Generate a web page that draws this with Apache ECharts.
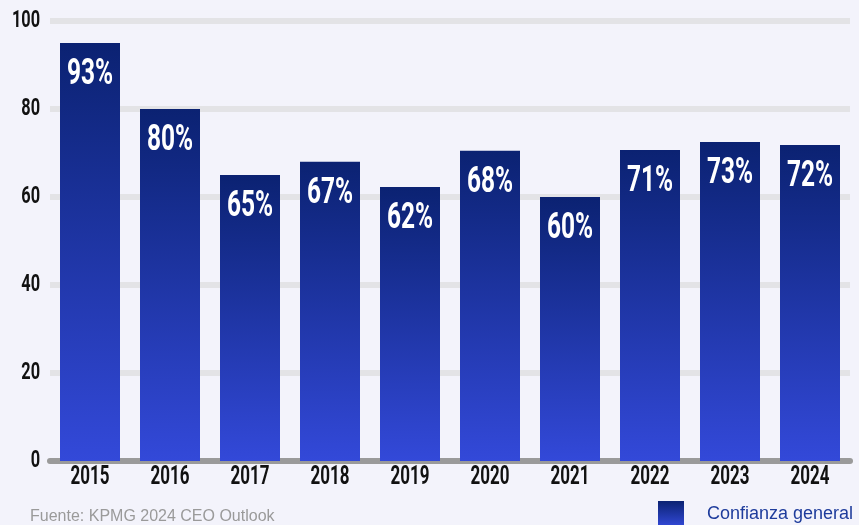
<!DOCTYPE html>
<html><head><meta charset="utf-8">
<script src="https://cdn.jsdelivr.net/npm/echarts@6/dist/echarts.min.js"></script>
<style>html,body{margin:0;padding:0;background:#f3f3fb}#c{width:859px;height:525px}</style>
</head><body><div id="c"></div>
<script>
const years = ['2015','2016','2017','2018','2019','2020','2021','2022','2023','2024'];
const barValues = [95, 80, 65, 68, 62.3, 70.5, 60, 70.7, 72.5, 71.8];
const barLabels = ['93%','80%','65%','67%','62%','68%','60%','71%','73%','72%'];
const seriesName = 'Confianza general';
const sourceText = 'Fuente: KPMG 2024 CEO Outlook';

// condensed look: horizontally squeeze text drawn in the "Roboto" face
(function(){
  const P = CanvasRenderingContext2D.prototype;
  const orig = P.fillText;
  P.fillText = function(t, x, y, w){
    if (this.font && this.font.indexOf('Roboto') >= 0) {
      this.save(); this.translate(x, y); this.scale(0.68, 1);
      orig.call(this, t, 0, 0); this.restore();
    } else { orig.call(this, t, x, y, w); }
  };
})();

const condensed = 'Roboto';
const grad = new echarts.graphic.LinearGradient(0,0,0,1,[
  {offset:0,color:'#0b2272'},{offset:1,color:'#3349d9'}]);
const chart = echarts.init(document.getElementById('c'), null, {renderer:'canvas'});
chart.setOption({
  backgroundColor:'#f3f3fb',
  animation:false,
  grid:{left:50,right:9,top:21,bottom:64,containLabel:false,outerBoundsMode:'none'},
  legend:{show:true,left:658,top:501,padding:0,itemWidth:26,itemHeight:26,itemGap:10,
    textStyle:{color:'#1e3c9c',fontSize:18,fontFamily:'"Liberation Sans", Arial, sans-serif',padding:[2,0,0,18]},
    data:[{name:seriesName,icon:'rect'}]},
  graphic:[{type:'text',left:30,top:509,style:{text:sourceText,fill:'#9a9a9a',fontSize:16,fontFamily:'"Liberation Sans", Arial, sans-serif'}}],
  xAxis:{type:'category',data:years,
    axisLine:{lineStyle:{color:'#9a9a9a',width:6}},
    axisTick:{show:false},
    axisLabel:{color:'#111',fontSize:25,fontWeight:'bold',fontFamily:condensed,margin:4}},
  yAxis:{type:'value',min:0,max:100,interval:20,
    axisLine:{show:false},axisTick:{show:false},
    splitLine:{lineStyle:{color:'#e3e3e6',width:6}},
    axisLabel:{color:'#111',fontSize:24,fontWeight:'bold',fontFamily:condensed,margin:10}},
  series:[{name:seriesName,type:'bar',data:barValues,barWidth:60,
    itemStyle:{color:grad},
    label:{show:true,position:'insideTop',distance:14,color:'#fff',fontSize:36,fontWeight:'bold',fontFamily:condensed,
      formatter:p=>barLabels[p.dataIndex]}}]
});
</script></body></html>
